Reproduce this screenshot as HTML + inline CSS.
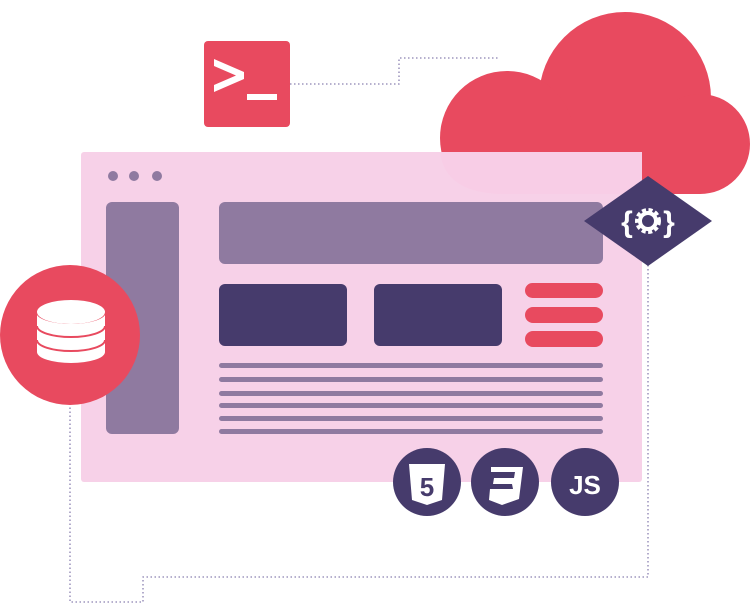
<!DOCTYPE html>
<html><head><style>body{margin:0;background:#fff}svg{display:block}</style></head><body>
<svg width="751" height="604" viewBox="0 0 751 604" xmlns="http://www.w3.org/2000/svg">
<g fill="none" stroke="#8a80b0" stroke-width="1.3" stroke-dasharray="1.5 2.5">
<path d="M290 84 H399 V58 H500"/>
<path d="M648 265 V577 H143 V602 H70 V400"/>
</g>
<g fill="#e84a5f">
<circle cx="625" cy="98" r="86"/>
<circle cx="507" cy="138" r="67"/>
<circle cx="700" cy="144" r="50"/>
<rect x="490" y="120" width="210" height="74"/>
</g>
<rect x="81" y="152" width="561" height="330" rx="3" fill="#f7d1e8"/>
<path d="M440 152 H642 V194 H505 Q445 194 440 152Z" fill="#f8cde6"/>
<circle cx="113" cy="176" r="5" fill="#8f7aa0"/><circle cx="134" cy="176" r="5" fill="#8f7aa0"/><circle cx="157" cy="176" r="5" fill="#8f7aa0"/>
<rect x="106" y="202" width="73" height="232" rx="6" fill="#8f7aa0"/>
<rect x="219" y="202" width="384" height="62" rx="6" fill="#8f7aa0"/>
<rect x="219" y="284" width="128" height="62" rx="6" fill="#463b6c"/>
<rect x="374" y="284" width="128" height="62" rx="6" fill="#463b6c"/>
<rect x="525" y="283" width="78" height="15" rx="7.5" fill="#e84a5f"/>
<rect x="525" y="307" width="78" height="16" rx="8" fill="#e84a5f"/>
<rect x="525" y="331" width="78" height="16" rx="8" fill="#e84a5f"/>
<g fill="#8f7aa0">
<rect x="219" y="363" width="384" height="5" rx="2.5"/><rect x="219" y="377" width="384" height="5" rx="2.5"/>
<rect x="219" y="391" width="384" height="5" rx="2.5"/><rect x="219" y="403" width="384" height="5" rx="2.5"/>
<rect x="219" y="416" width="384" height="5" rx="2.5"/><rect x="219" y="429" width="384" height="5" rx="2.5"/>
</g>
<rect x="204" y="41" width="86" height="86" rx="4" fill="#e84a5f"/>
<polygon points="214,59 244,72 244,79 214,92 214,85 236,75.5 214,66" fill="#fff"/>
<rect x="247" y="94" width="30" height="6" fill="#fff"/>
<circle cx="70" cy="335" r="70" fill="#e84a5f"/>
<path d="M37 312 V352 A34 11 0 0 0 105 352 V312Z" fill="#fff"/>
<g fill="none" stroke="#e84a5f" stroke-width="2">
<path d="M37 312 A34 11 0 0 0 105 312"/>
<path d="M37 326 A34 11 0 0 0 105 326"/>
<path d="M37 340 A34 11 0 0 0 105 340"/>
</g>
<ellipse cx="71" cy="312" rx="34" ry="12" fill="#fff"/>
<polygon points="648,176 712,221 648,266 584,221" fill="#463b6c"/>
<g font-family="Liberation Sans, sans-serif" font-weight="bold" font-size="30" fill="#fff">
<text x="627" y="232" text-anchor="middle">{</text>
<text x="669" y="232" text-anchor="middle">}</text>
</g>
<circle cx="648" cy="221" r="11" fill="none" stroke="#fff" stroke-width="4" stroke-dasharray="4 2.5"/>
<circle cx="648" cy="221" r="8" fill="none" stroke="#fff" stroke-width="4"/>
<g fill="#463b6c"><circle cx="427" cy="482" r="34"/><circle cx="505" cy="482" r="34"/><circle cx="585" cy="482" r="34"/></g>
<path d="M409 464 H445 L442 500 L427 505 L412 500Z" fill="#fff"/>
<text x="427" y="496" text-anchor="middle" font-family="Liberation Sans, sans-serif" font-weight="bold" font-size="26" fill="#463b6c">5</text>
<path d="M491 467 H523 L519 499 L502 505 L489 500 L490 489 L513 489 L512 484 L493 484 L494 478 L514 478 L515 472 L491 472Z" fill="#fff"/>
<text x="585" y="494" text-anchor="middle" font-family="Liberation Sans, sans-serif" font-weight="bold" font-size="26" fill="#fff">JS</text>
</svg>
</body></html>
